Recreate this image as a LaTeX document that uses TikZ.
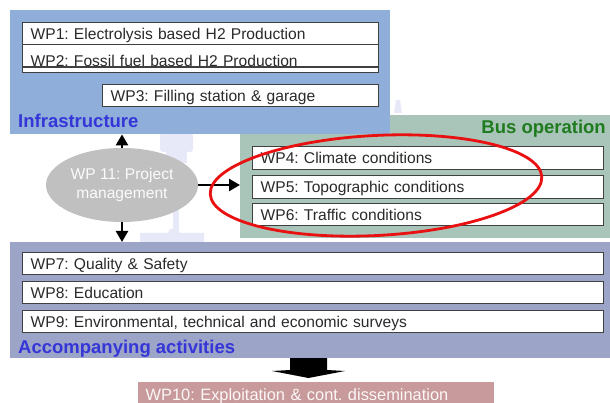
\documentclass[tikz,border=0pt]{standalone}
\usepackage{fontspec}
\setmainfont{Liberation Sans}
\usetikzlibrary{arrows.meta,shapes.geometric}

\definecolor{infrabg}{RGB}{143,174,217}
\definecolor{busbg}{RGB}{169,196,184}
\definecolor{accbg}{RGB}{156,165,200}
\definecolor{pmgray}{RGB}{192,192,192}
\definecolor{wptenbg}{RGB}{201,154,156}
\definecolor{labblue}{RGB}{53,53,216}
\definecolor{busgreen}{RGB}{30,123,30}
\definecolor{boxline}{RGB}{64,64,64}
\definecolor{wptext}{RGB}{42,42,42}
\definecolor{wmark}{RGB}{231,233,249}
\definecolor{ringred}{RGB}{232,16,16}

\tikzset{
  panel/.style={draw=none, anchor=north west, inner sep=0pt},
  wp/.style={draw=boxline, line width=1.3pt, fill=white, anchor=north west,
    inner xsep=8pt, inner ysep=0pt, align=left, text=wptext,
    text height=11.5pt, text depth=0pt, font=\fontsize{15.6pt}{17pt}\selectfont},
  boxedge/.style={draw=boxline, line width=1.3pt},
  grouplabel/.style={inner sep=0pt, font=\fontsize{18.5pt}{21pt}\selectfont\bfseries},
  pmnode/.style={ellipse, fill=pmgray, inner sep=0pt, align=center,
    text=white!94!pmgray, font=\fontsize{15.6pt}{19pt}\selectfont},
  conn/.style={-{Triangle[length=11pt,width=12pt]}, line width=2.4pt, black},
  ring/.style={draw=ringred, line width=2.8pt},
}

\begin{document}
\frenchspacing
\begin{tikzpicture}[x=1pt,y=-1pt]
\useasboundingbox (0,0) rectangle (610,403);
\fill[white] (0,0) rectangle (610,403);

% faint watermark silhouettes in the background
\fill[wmark, rounded corners=3pt] (160,133) rectangle (193,152);
\fill[wmark] (166,151) rectangle (187,163);
\fill[wmark] (173,162) rectangle (179,243);
\fill[wmark] (140,233) -- (168,233) -- (170,229) -- (178,229) -- (180,233) -- (204,233) -- (204,243) -- (140,243) -- cycle;
\fill[wmark] (394,113) -- (396,100) -- (400,100) -- (402,113) -- cycle;

% group panels
\node[panel, fill=busbg, minimum width=370pt, minimum height=123pt] (bus) at (240,115) {};
\node[panel, fill=infrabg, minimum width=380pt, minimum height=124pt] (infra) at (10,10) {};
\node[panel, fill=accbg, minimum width=600pt, minimum height=116pt] (acc) at (10,242) {};

% group titles
\node[grouplabel, text=labblue, anchor=base west] (infralab) at (18,128) {Infrastructure};
\node[grouplabel, text=busgreen, anchor=base east] (buslab) at (606,134) {Bus operation};
\node[grouplabel, text=labblue, anchor=base west] (acclab) at (18,353) {Accompanying activities};

% infrastructure work packages
\node[wp, text width=340pt, minimum height=22pt] (wp1) at (22,22) {WP1: Electrolysis based H2 Production};
\node[wp, text width=340pt, minimum height=28pt] (wp2) at (22,44) {\raisebox{-2.25pt}{WP2: Fossil fuel based H2 Production}};
\draw[boxedge] ([yshift=-23pt]wp2.north west) -- ([yshift=-23pt]wp2.north east);
\node[wp, text width=260pt, minimum height=22pt] (wp3) at (102,84) {WP3: Filling station \& garage};

% bus operation work packages
\node[wp, text width=335pt, minimum height=23pt] (wp4) at (252,146) {WP4: Climate conditions};
\node[wp, text width=335pt, minimum height=23pt] (wp5) at (252,175) {WP5: Topographic conditions};
\node[wp, text width=335pt, minimum height=22pt] (wp6) at (252,203) {WP6: Traffic conditions};

% accompanying activities
\node[wp, text width=565pt, minimum height=22pt] (wp7) at (22,252) {WP7: Quality \& Safety};
\node[wp, text width=565pt, minimum height=22pt] (wp8) at (22,281) {WP8: Education};
\node[wp, text width=565pt, minimum height=22pt] (wp9) at (22,310) {WP9: Environmental, technical and economic surveys};

% exploitation
\node[wp, draw=none, fill=wptenbg, text=white!92!wptenbg, text width=340pt, minimum height=26pt,
  text height=12pt, font=\fontsize{16.4pt}{18pt}\selectfont] (wp10) at (137,381) {WP10: Exploitation \& cont. dissemination};

% project management
\node[pmnode, minimum width=152pt, minimum height=74pt] (pm) at (122,185) {WP 11: Project\\management};

\draw[conn] (pm.north) -- (pm.north |- infra.south);
\draw[conn] (pm.south) -- (pm.south |- acc.north);
\draw[conn] (pm.east) -- (pm.east -| bus.west);

% block arrow down to WP10
\coordinate (bk) at (308.5,358);
\fill[black] (bk) ++(-18.5,0) -- ++(37,0) -- ++(0,12) -- ++(18,1) -- (308.5,378) -- (272,371) -- (290,370) -- cycle;

% highlight ring around the bus operation packages
\draw[ring, rotate around={3:(376,185.5)}] (376,185.5) ellipse [x radius=166pt, y radius=50pt];
\end{tikzpicture}
\end{document}
